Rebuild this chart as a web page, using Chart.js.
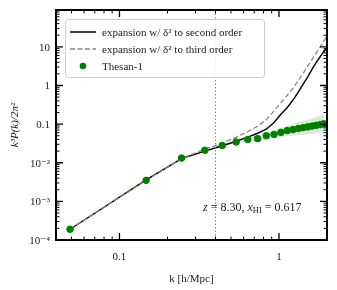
<!DOCTYPE html>
<html><head><meta charset="utf-8">
<script src="https://cdn.jsdelivr.net/npm/chart.js@4/dist/chart.umd.min.js"></script>
<style>html,body{margin:0;padding:0;background:#fff}#w{width:337px;height:290px}</style>
</head><body><div id="w"><canvas id="c" width="337" height="290"></canvas></div>
<script>
// ---- data ----
const kBins = [0.049,0.147,0.245,0.343,0.441,0.539,0.637,0.735,0.833,0.931,1.029,1.127,1.225,1.323,1.421,1.519,1.617,1.715,1.813,1.911];
const thesan = [1.9e-4,3.5e-3,0.0132,0.021,0.028,0.0345,0.040,0.042,0.050,0.054,0.061,0.068,0.072,0.077,0.081,0.085,0.089,0.093,0.097,0.102];
const bandUpper = [1.95e-4,3.6e-3,0.0136,0.0218,0.0292,0.0365,0.0440,0.049,0.061,0.069,0.080,0.092,0.101,0.112,0.122,0.132,0.143,0.155,0.168,0.182];
const bandLower = [1.85e-4,3.4e-3,0.0128,0.0202,0.0268,0.0325,0.0362,0.0360,0.0410,0.0428,0.0458,0.0485,0.0500,0.0518,0.0532,0.0546,0.0560,0.0574,0.0586,0.0598];
const kLine = [0.049,0.147,0.245,0.343,0.441,0.539,0.637,0.735,0.833,0.931,1.029,1.127,1.225,1.323,1.421,1.519,1.617,1.715,1.813,1.911,2.009];
const secondOrder = [1.9e-4,3.6e-3,0.0128,0.020,0.0275,0.036,0.046,0.058,0.074,0.11,0.18,0.27,0.42,0.68,1.1,1.7,2.7,4.0,5.6,7.6,10.0];
const thirdOrder = [1.9e-4,3.5e-3,0.0128,0.0225,0.032,0.046,0.064,0.088,0.13,0.22,0.36,0.56,0.85,1.35,2.1,3.2,4.8,7.0,10,14,20];
const yTicks = [1e-4,1e-3,1e-2,0.1,1,10];
const yTickLabels = ['10⁻⁴','10⁻³','10⁻²','0.1','1','10'];
const xTicks = [0.1,1];
const xTickLabels = ['0.1','1'];
const kCut = 0.4;
const legendLabels = ['expansion w/ δ² to second order','expansion w/ δ² to third order','Thesan-1'];

const pts = (xs, ys) => xs.map((x,i)=>({x:x,y:ys[i]}));
const SERIF = '"Liberation Serif","DejaVu Serif",serif';

const framePlugin = {
  id:'frame',
  afterDraw(chart){
    const ctx = chart.ctx, a = chart.chartArea;
    const xs = chart.scales.x, ys = chart.scales.y;
    ctx.save();
    // dotted vertical line
    const xc = xs.getPixelForValue(kCut);
    ctx.strokeStyle = '#888'; ctx.lineWidth = 1; ctx.setLineDash([1.5,2]);
    ctx.beginPath(); ctx.moveTo(xc,a.top); ctx.lineTo(xc,a.bottom); ctx.stroke();
    ctx.setLineDash([]);
    // ticks
    ctx.strokeStyle = '#000';
    function xt(v, len, lw){ const p = xs.getPixelForValue(v); if(p<a.left-0.5||p>a.right+0.5) return;
      ctx.lineWidth = lw; ctx.beginPath(); ctx.moveTo(p,a.bottom); ctx.lineTo(p,a.bottom-len); ctx.moveTo(p,a.top); ctx.lineTo(p,a.top+len); ctx.stroke(); }
    function yt(v, len, lw){ const p = ys.getPixelForValue(v); if(p<a.top-0.5||p>a.bottom+0.5) return;
      ctx.lineWidth = lw; ctx.beginPath(); ctx.moveTo(a.left,p); ctx.lineTo(a.left+len,p); ctx.moveTo(a.right,p); ctx.lineTo(a.right-len,p); ctx.stroke(); }
    for (let e=-2; e<=0; e++) for (let m=1; m<10; m++){ const v=m*Math.pow(10,e); if(m===1) xt(v,7,1.3); else xt(v,3.5,1); }
    for (let e=-4; e<=1; e++) for (let m=1; m<10; m++){ const v=m*Math.pow(10,e); if(m===1) yt(v,7,1.3); else yt(v,3.5,1); }
    ctx.lineWidth = 2; ctx.strokeRect(a.left, a.top, a.right-a.left, a.bottom-a.top);
    // tick labels
    ctx.font = '11px '+SERIF; ctx.fillStyle='#222';
    ctx.textAlign='right'; ctx.textBaseline='middle';
    yTicks.forEach((v,i)=>ctx.fillText(yTickLabels[i], a.left-6, ys.getPixelForValue(v)+1));
    ctx.textAlign='center'; ctx.textBaseline='middle';
    xTicks.forEach((v,i)=>ctx.fillText(xTickLabels[i], xs.getPixelForValue(v), a.bottom+17));
    // legend
    const lx=65, ly=19, lw=199, lh=58;
    ctx.fillStyle='rgba(255,255,255,0.85)'; ctx.strokeStyle='#cccccc'; ctx.lineWidth=1;
    ctx.beginPath(); ctx.roundRect(lx+0.5,ly+0.5,lw,lh,3); ctx.fill(); ctx.stroke();
    ctx.font = '11px '+SERIF; ctx.fillStyle='#222'; ctx.textBaseline='middle'; ctx.textAlign='left';
    const rows=[ly+13, ly+30, ly+47];
    ctx.strokeStyle='#000'; ctx.lineWidth=1.5; ctx.beginPath(); ctx.moveTo(lx+5,rows[0]); ctx.lineTo(lx+31,rows[0]); ctx.stroke();
    ctx.strokeStyle='#888'; ctx.setLineDash([5,2.5]); ctx.beginPath(); ctx.moveTo(lx+5,rows[1]); ctx.lineTo(lx+31,rows[1]); ctx.stroke(); ctx.setLineDash([]);
    ctx.fillStyle='#008000'; ctx.beginPath(); ctx.arc(lx+18,rows[2],3.3,0,Math.PI*2); ctx.fill();
    ctx.fillStyle='#222';
    legendLabels.forEach((t,i)=>ctx.fillText(t, lx+37, rows[i]+1));
    // annotation
    let x0 = 203, yb = 208;
    ctx.textBaseline='middle';
    const seg = (t, st, sz, dy) => { ctx.font = st+' '+sz+'px '+SERIF; ctx.fillText(t, x0, yb+(dy||0)); x0 += ctx.measureText(t).width; };
    seg('z','italic',12); seg(' = 8.30, ','normal',12); seg('x','italic',12); seg('HI','normal',8.5,3); seg(' = 0.617','normal',12);
    ctx.restore();
  }
};

new Chart(document.getElementById('c'), {
  type:'scatter',
  data:{ datasets:[
    {label:'Thesan-1', data:pts(kBins,thesan), backgroundColor:'#008000', borderColor:'#008000', pointRadius:3.3, pointHoverRadius:3.3, showLine:false, order:0},
    {label:'third', data:pts(kLine,thirdOrder), borderColor:'#888888', borderWidth:1.3, borderDash:[5,2.5], pointRadius:0, showLine:true, fill:false, order:1},
    {label:'second', data:pts(kLine,secondOrder), borderColor:'#000000', borderWidth:1.4, pointRadius:0, showLine:true, fill:false, order:2},
    {label:'lower', data:pts(kBins,bandLower), borderColor:'rgba(0,128,0,0)', borderWidth:0, pointRadius:0, showLine:true, fill:false, order:4},
    {label:'upper', data:pts(kBins,bandUpper), borderColor:'rgba(0,128,0,0)', borderWidth:0, pointRadius:0, showLine:true, fill:{target:3}, backgroundColor:'rgba(0,128,0,0.15)', order:3}
  ]},
  options:{
    responsive:false, animation:false,
    layout:{padding:{left:0,right:10,top:10,bottom:0}},
    plugins:{legend:{display:false}, tooltip:{enabled:false}},
    scales:{
      x:{type:'logarithmic', min:0.04, max:2.0,
        grid:{display:false, drawTicks:false, tickLength:0}, border:{display:false},
        afterBuildTicks:s=>{s.ticks = xTicks.map(v=>({value:v}));},
        afterFit:s=>{s.height=50;},
        ticks:{display:false},
        title:{display:true, text:'k [h/Mpc]', color:'#222', font:{family:SERIF,size:11}, padding:{top:4,bottom:4}}
      },
      y:{type:'logarithmic', min:1e-4, max:90,
        grid:{display:false, drawTicks:false, tickLength:0}, border:{display:false},
        afterBuildTicks:s=>{s.ticks = yTicks.map(v=>({value:v}));},
        afterFit:s=>{s.width=56;},
        ticks:{display:false},
        title:{display:true, text:'k³P(k)/2π²', color:'#222', font:{family:SERIF,size:11,style:'italic'}, padding:{top:9,bottom:0}}
      }
    }
  },
  plugins:[framePlugin]
});
</script></body></html>
